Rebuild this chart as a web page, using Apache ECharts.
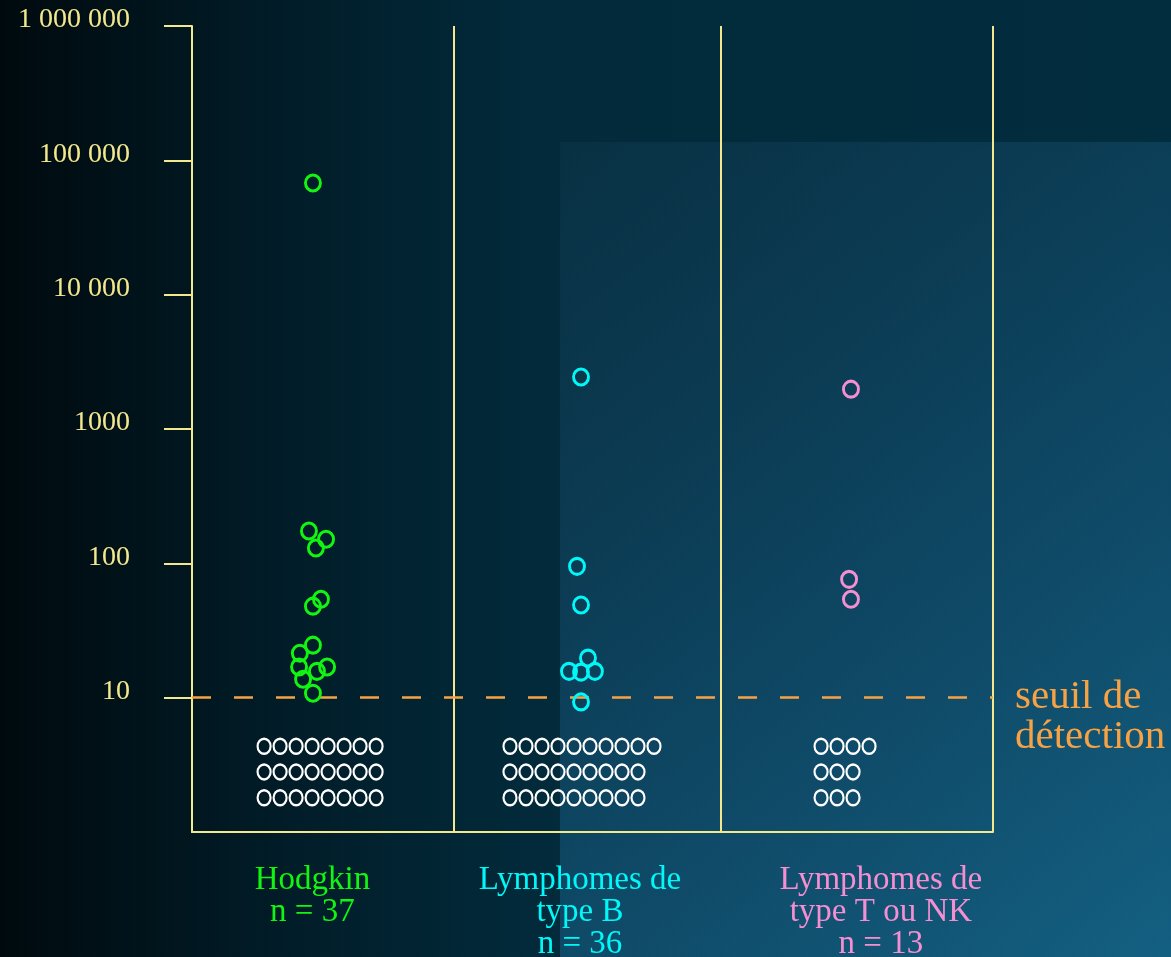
<!DOCTYPE html>
<html>
<head>
<meta charset="utf-8">
<script src="https://cdn.jsdelivr.net/npm/echarts@6/dist/echarts.min.js"></script>
<style>
  html, body { margin: 0; padding: 0; background: #000b10; }
  #chart { width: 1171px; height: 957px; }
</style>
</head>
<body>
<div id="chart"></div>
<script>
// Groups and sample sizes
const categories = ['Hodgkin', 'Lymphomes de\ntype B', 'Lymphomes de\ntype T ou NK'];
const sampleSizes = [37, 36, 13];

// Detected values (copies / ml), one array per group
const hodgkinValues = [67800, 174, 151, 130, 54, 48, 24.6, 21.4, 16.9, 16.9, 15.7, 13.7, 10.8];
const typeBValues   = [2440, 95, 49, 19.7, 15.7, 15.5, 15.7, 9.3];
const typeTNKValues = [1980, 76, 54];

// Horizontal jitter of each detected point (x axis units, one unit per group)
const hodgkinJitter = [0.453, 0.438, 0.502, 0.464, 0.483, 0.453, 0.453, 0.404, 0.401, 0.506, 0.468, 0.416, 0.453];
const typeBJitter   = [1.457, 1.442, 1.457, 1.483, 1.412, 1.457, 1.509, 1.457];
const typeTNKJitter = [2.468, 2.461, 2.468];

// Samples below the detection threshold, counted per display row
const undetectedRows = [[8, 8, 8], [10, 9, 9], [4, 3, 3]];
const undetectedRowLevels = [4.35, 2.8, 1.8];

// Threshold and y axis ticks
const detectionThreshold = 10;
const yTickValues = [10, 100, 1000, 10000, 100000, 1000000];
const yTickLabels = ['10', '100', '1000', '10 000', '100 000', '1 000 000'];

// ---- styling ----
const FONT = '"Liberation Serif", "Times New Roman", serif';
const KHAKI = '#f4e88e';
const ORANGE = '#f7a244';
const GROUP_COLORS = ['#12f512', '#00f8f8', '#f68fd2'];
const GROUP_KEYS = ['h', 'b', 't'];
const groupBounds = [0.978, 1.978, 3];
const labelCenters = [0.451, 1.453, 2.58];
const rowStarts = [0.27, 1.191, 2.356];
const rowPitch = 16 / 267;

const chart = echarts.init(document.getElementById('chart'), null, { renderer: 'canvas' });

function pairs(xs, ys) { return ys.map((v, i) => [xs[i], v]); }

const undetectedData = [];
undetectedRows.forEach((rows, g) => {
  rows.forEach((count, r) => {
    for (let i = 0; i < count; i++) {
      undetectedData.push([rowStarts[g] + i * rowPitch, undetectedRowLevels[r]]);
    }
  });
});

function ring(color, w) {
  return { color: 'rgba(0,0,0,0)', borderColor: color, borderWidth: w, opacity: 1 };
}

const rich = {};
GROUP_KEYS.forEach((k, i) => {
  rich[k] = { color: GROUP_COLORS[i], fontFamily: FONT, fontSize: 33, lineHeight: 32, align: 'center' };
});

function categoryLabel(v) {
  let idx = 0, best = Infinity;
  labelCenters.forEach((c, i) => { const d = Math.abs(c - v); if (d < best) { best = d; idx = i; } });
  const lines = categories[idx].split('\n').concat(['n = ' + sampleSizes[idx]]);
  return lines.map(l => '{' + GROUP_KEYS[idx] + '|' + l + '}').join('\n');
}

function yLabel(v) {
  for (let i = 0; i < yTickValues.length; i++) {
    if (Math.abs(Math.log10(v) - Math.log10(yTickValues[i])) < 1e-6) return yTickLabels[i];
  }
  return '';
}

const option = {
  animation: false,
  backgroundColor: {
    type: 'linear', x: 0, y: 0, x2: 1, y2: 0,
    colorStops: [
      { offset: 0, color: '#000a0e' },
      { offset: 0.22, color: '#011b26' },
      { offset: 0.45, color: '#022a3a' },
      { offset: 1, color: '#022d3e' }
    ]
  },
  graphic: [
    {
      type: 'rect', silent: true, z: -10,
      shape: { x: 560, y: 142, width: 611, height: 815 },
      style: {
        shadowBlur: 14, shadowColor: 'rgba(22,72,102,0.15)',
        fill: {
          type: 'linear', x: 0, y: 0, x2: 1, y2: 1,
          colorStops: [
            { offset: 0, color: 'rgba(30,72,100,0.2)' },
            { offset: 0.5, color: 'rgba(25,95,135,0.45)' },
            { offset: 1, color: 'rgba(25,112,152,0.75)' }
          ]
        }
      }
    }
  ],
  grid: { left: 192, right: 178, top: 26, bottom: 125, containLabel: false, outerBoundsMode: 'none' },
  xAxis: {
    type: 'value', min: 0, max: 3,
    axisLine: { show: true, onZero: false, lineStyle: { color: KHAKI, width: 2 } },
    axisTick: { show: false },
    splitLine: { show: false },
    axisLabel: {
      customValues: labelCenters,
      formatter: categoryLabel,
      margin: 32,
      rich: rich
    }
  },
  yAxis: {
    type: 'log', logBase: 10, min: 1, max: 1000000,
    axisLine: { show: true, lineStyle: { color: KHAKI, width: 2 } },
    axisTick: { show: true, customValues: yTickValues, length: 28, lineStyle: { color: KHAKI, width: 2 } },
    splitLine: { show: false },
    axisLabel: {
      customValues: yTickValues,
      formatter: yLabel,
      color: KHAKI, fontFamily: FONT, fontSize: 28,
      margin: 62,
      verticalAlign: 'bottom',
      lineHeight: 12
    }
  },
  series: [
    {
      type: 'scatter', name: 'separators', data: [],
      silent: true,
      markLine: {
        silent: true, symbol: 'none', animation: false,
        label: { show: false },
        lineStyle: { color: KHAKI, width: 2, type: 'solid' },
        emphasis: { disabled: true },
        data: groupBounds.map(x => ({ xAxis: x }))
      }
    },
    {
      type: 'scatter', name: 'seuil', data: [],
      silent: true,
      markLine: {
        silent: true, symbol: 'none', animation: false,
        lineStyle: { color: ORANGE, width: 2.5, type: [19, 23] },
        emphasis: { disabled: true },
        label: {
          show: true, position: 'end', distance: 22,
          formatter: '\nseuil de\ndétection',
          color: ORANGE, fontFamily: FONT, fontSize: 41, lineHeight: 40
        },
        data: [{ yAxis: detectionThreshold }]
      }
    },
    {
      type: 'scatter', name: 'Hodgkin', z: 5,
      data: pairs(hodgkinJitter, hodgkinValues),
      symbol: 'circle', symbolSize: [15, 16],
      itemStyle: ring(GROUP_COLORS[0], 3),
      emphasis: { disabled: true }
    },
    {
      type: 'scatter', name: 'type B', z: 5,
      data: pairs(typeBJitter, typeBValues),
      symbol: 'circle', symbolSize: [15, 16],
      itemStyle: ring(GROUP_COLORS[1], 3),
      emphasis: { disabled: true }
    },
    {
      type: 'scatter', name: 'type T ou NK', z: 5,
      data: pairs(typeTNKJitter, typeTNKValues),
      symbol: 'circle', symbolSize: [15, 16],
      itemStyle: ring(GROUP_COLORS[2], 3),
      emphasis: { disabled: true }
    },
    {
      type: 'scatter', name: 'non détectés', z: 5,
      data: undetectedData,
      symbol: 'circle', symbolSize: [13, 15],
      itemStyle: ring('#ffffff', 2.3),
      emphasis: { disabled: true }
    }
  ]
};

chart.setOption(option);
</script>
</body>
</html>
